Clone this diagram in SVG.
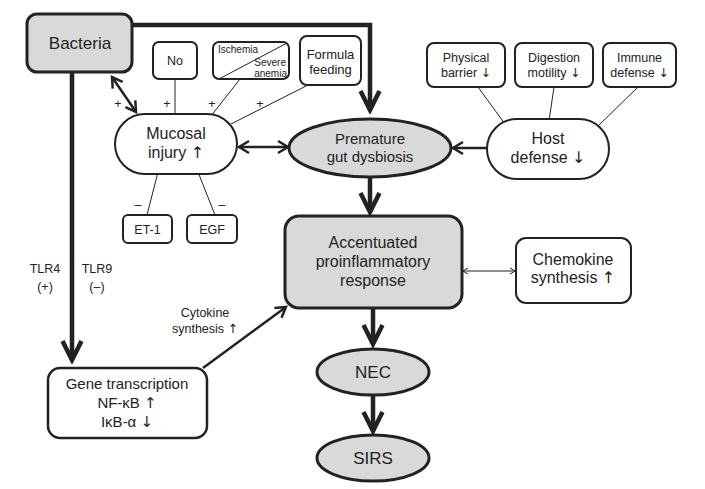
<svg xmlns="http://www.w3.org/2000/svg" width="705" height="489" viewBox="0 0 705 489">
<style>
text{font-family:"Liberation Sans",Arial,sans-serif;fill:#222;text-anchor:middle}
.ar{font-family:"DejaVu Sans",sans-serif;fill:#222}
.gray{fill:#d9d9d9;stroke:#222;stroke-width:3}
.white{fill:#fff;stroke:#222;stroke-width:2}
.thick{fill:none;stroke:#222;stroke-width:4.5}
.med{fill:none;stroke:#222;stroke-width:2.5}
.thin{fill:none;stroke:#222;stroke-width:1}
.f16{font-size:16px}.f15{font-size:15px}.f13{font-size:13px}.f12{font-size:12.5px}.f10{font-size:10px}
</style>
<defs>
<marker id="big" markerUnits="userSpaceOnUse" viewBox="-24 -13 28 26" markerWidth="28" markerHeight="26" refX="0" refY="0" orient="auto">
<path d="M-19,-9.5 L0,0 L-19,9.5" fill="none" stroke="#222" stroke-width="4.5" stroke-linejoin="miter"/>
</marker>
<marker id="mid" markerUnits="userSpaceOnUse" viewBox="-14 -9 17 18" markerWidth="17" markerHeight="18" refX="0" refY="0" orient="auto-start-reverse">
<path d="M-10,-6 L0,0 L-10,6" fill="none" stroke="#222" stroke-width="2.5"/>
</marker>
<marker id="sm" markerUnits="userSpaceOnUse" viewBox="-8 -5 10 10" markerWidth="10" markerHeight="10" refX="0" refY="0" orient="auto-start-reverse">
<path d="M-5,-3 L0,0 L-5,3" fill="none" stroke="#222" stroke-width="1"/>
</marker>
</defs>
<g id="connectors">
<path class="thick" d="M132,25 H370 V110" marker-end="url(#big)"/>
<path class="thick" d="M72,72 V360" marker-end="url(#big)"/>
<path class="thick" d="M370,177 V212" marker-end="url(#big)"/>
<path class="thick" d="M373,308 V344" marker-end="url(#big)"/>
<path class="thick" d="M373,395 V431" marker-end="url(#big)"/>
<line class="med" x1="112" y1="77" x2="136" y2="112" marker-start="url(#mid)" marker-end="url(#mid)"/>
<line class="med" x1="239" y1="147" x2="288" y2="147" marker-start="url(#mid)" marker-end="url(#mid)"/>
<line class="med" x1="487" y1="148" x2="453" y2="148" marker-end="url(#mid)"/>
<line class="med" x1="203" y1="368" x2="286" y2="307" marker-end="url(#mid)"/>
<line class="thin" x1="463" y1="271" x2="515" y2="271" marker-start="url(#sm)" marker-end="url(#sm)"/>
<line class="thin" x1="175" y1="79" x2="175" y2="116"/>
<line class="thin" x1="240" y1="79" x2="211" y2="116"/>
<line class="thin" x1="308" y1="85" x2="231" y2="124"/>
<line class="thin" x1="158" y1="172" x2="147" y2="215"/>
<line class="thin" x1="198" y1="172" x2="215" y2="215"/>
<line class="thin" x1="478" y1="87" x2="505" y2="124"/>
<line class="thin" x1="554" y1="87" x2="549" y2="121"/>
<line class="thin" x1="638" y1="87" x2="596" y2="128"/>
</g>
<g id="labels">
<text class="f12" x="118" y="108">+</text>
<text class="f12" x="167" y="108">+</text>
<text class="f12" x="212" y="108">+</text>
<text class="f12" x="260" y="108">+</text>
<text class="f12" x="138" y="209">–</text>
<text class="f12" x="222" y="209">–</text>
<text class="f12" x="45" y="273">TLR4</text>
<text class="f12" x="45" y="291">(+)</text>
<text class="f12" x="97" y="273">TLR9</text>
<text class="f12" x="97" y="291">(–)</text>
<text class="f12" x="205" y="317">Cytokine</text>
<text class="f12" x="205" y="333">synthesis <tspan class="ar">↑</tspan></text>
</g>
<g id="bacteria">
<rect class="gray" x="27" y="14" width="105" height="58" rx="10"/>
<text x="80" y="49" style="font-size:17px">Bacteria</text>
</g>
<g id="no">
<rect class="white" x="153" y="42" width="44" height="37" rx="6"/>
<text class="f12" x="175" y="65">No</text>
</g>
<g id="ischemia">
<rect class="white" x="213" y="42" width="76" height="37" rx="6"/>
<line class="thin" x1="219" y1="79" x2="287" y2="43"/>
<text class="f10" x="218" y="53" style="text-anchor:start">Ischemia</text>
<text class="f10" x="286" y="66" style="text-anchor:end">Severe</text>
<text class="f10" x="287" y="77" style="text-anchor:end">anemia</text>
</g>
<g id="formula">
<rect class="white" x="300" y="36" width="61" height="49" rx="7"/>
<text class="f13" x="330.5" y="59">Formula</text>
<text class="f13" x="330.5" y="74">feeding</text>
</g>
<g id="mucosal">
<rect class="white" x="115" y="114" width="122" height="60" rx="30"/>
<text class="f16" x="176" y="139">Mucosal</text>
<text class="f16" x="176" y="158">injury <tspan class="ar">↑</tspan></text>
</g>
<g id="et1">
<rect class="white" x="123" y="215" width="49" height="28" rx="5"/>
<text class="f12" x="147.5" y="234">ET-1</text>
</g>
<g id="egf">
<rect class="white" x="187" y="215" width="50" height="28" rx="5"/>
<text class="f12" x="212" y="234">EGF</text>
</g>
<g id="dysbiosis">
<ellipse class="gray" cx="370" cy="148" rx="81" ry="29"/>
<text class="f15" x="370" y="144">Premature</text>
<text class="f15" x="370" y="162">gut dysbiosis</text>
</g>
<g id="host">
<rect class="white" x="487" y="119" width="122" height="60" rx="30"/>
<text class="f16" x="548" y="144">Host</text>
<text class="f16" x="548" y="163">defense <tspan class="ar">↓</tspan></text>
</g>
<g id="physical">
<rect class="white" x="427" y="43" width="78" height="44" rx="7"/>
<text class="f12" x="466" y="62">Physical</text>
<text class="f12" x="466" y="77">barrier <tspan class="ar">↓</tspan></text>
</g>
<g id="digestion">
<rect class="white" x="515" y="43" width="78" height="44" rx="7"/>
<text class="f12" x="554" y="62">Digestion</text>
<text class="f12" x="554" y="77">motility <tspan class="ar">↓</tspan></text>
</g>
<g id="immune">
<rect class="white" x="603" y="43" width="73" height="44" rx="7"/>
<text class="f12" x="639.5" y="62">Immune</text>
<text class="f12" x="639.5" y="77">defense <tspan class="ar">↓</tspan></text>
</g>
<g id="accentuated">
<rect class="gray" x="285" y="216" width="177" height="92" rx="14"/>
<text class="f16" x="373" y="248">Accentuated</text>
<text class="f16" x="373" y="267">proinflammatory</text>
<text class="f16" x="373" y="286">response</text>
</g>
<g id="chemokine">
<rect class="white" x="516" y="238" width="115" height="65" rx="10"/>
<text class="f16" x="573" y="265">Chemokine</text>
<text class="f16" x="573" y="283">synthesis <tspan class="ar">↑</tspan></text>
</g>
<g id="nec">
<ellipse class="gray" cx="373" cy="372" rx="56" ry="23"/>
<text x="373" y="378" style="font-size:17px">NEC</text>
</g>
<g id="sirs">
<ellipse class="gray" cx="373" cy="458" rx="56" ry="23"/>
<text x="373" y="464" style="font-size:17px">SIRS</text>
</g>
<g id="gene">
<rect class="white" x="48" y="368" width="159" height="70" rx="12" style="stroke-width:2.5"/>
<text class="f15" x="127" y="389">Gene transcription</text>
<text class="f15" x="127" y="408">NF-κB <tspan class="ar">↑</tspan></text>
<text class="f15" x="127" y="427">IκB-α <tspan class="ar">↓</tspan></text>
</g>
</svg>
